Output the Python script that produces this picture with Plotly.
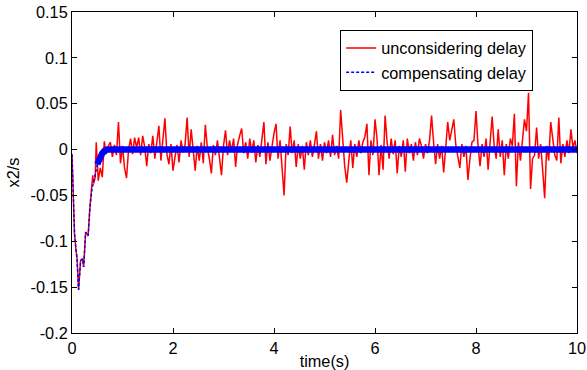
import numpy as np
import plotly.graph_objects as go

# ---- data ----
red_tr_t = [0, 0.03, 0.05, 0.08, 0.10, 0.13, 0.15, 0.17, 0.21, 0.23, 0.25, 0.27, 0.30, 0.32, 0.35, 0.39, 0.41, 0.43, 0.46]
red_tr_y = [-0.005, -0.066, -0.092, -0.11, -0.118, -0.153, -0.14, -0.121, -0.119, -0.128, -0.11, -0.09, -0.092, -0.094, -0.066, -0.045, -0.028, -0.037, -0.03]

red_t0 = 0.48
red_dt = 0.04
red_y = [
    0.008, -0.034, -0.02, -0.03, 0.009, -0.005, 0.004, 0.008, -0.008, 0.005, -0.006, 0.03, -0.015, 0.004, -0.02, -0.031, 0.0, 0.012, -0.005, 0.013, 0.002, 0.013, -0.006, 0.015, 0.003,
    -0.018, 0.006, -0.004, 0.015, -0.01, 0.008, 0.026, -0.012, 0.01, 0.034, -0.005, -0.016, 0.006, -0.023, -0.008, 0.005, -0.014, 0.01, -0.003, 0.006, 0.035, -0.008, 0.022, -0.004, -0.023,
    0.004, -0.012, 0.008, -0.015, 0.027, 0.002, -0.01, -0.026, 0.005, -0.006, 0.01, -0.01, -0.028, 0.004, 0.021, -0.006, 0.01, -0.002, 0.012, -0.019, 0.006, 0.015, 0.023, -0.004, 0.008,
    -0.01, 0.012, -0.003, 0.01, -0.014, 0.005, -0.008, 0.012, 0.03, -0.016, 0.008, -0.012, 0.004, 0.018, 0.028, -0.01, 0.01, -0.02, -0.05, 0.006, -0.006, 0.025, -0.004, 0.01, -0.019,
    0.006, -0.01, 0.004, -0.022, 0.008, -0.006, 0.01, -0.008, 0.005, 0.02, -0.01, 0.006, -0.012, 0.008, -0.004, 0.01, -0.008, 0.016, -0.006, 0.004, -0.01, 0.043, 0.012, -0.018, -0.036,
    -0.01, 0.01, -0.02, 0.006, -0.008, 0.01, -0.004, 0.008, 0.014, 0.028, -0.028, 0.01, -0.006, 0.033, 0.012, -0.028, 0.005, -0.022, 0.037, 0.008, -0.01, 0.012, -0.005, 0.01, -0.026,
    0.004, -0.008, 0.01, -0.024, 0.012, -0.004, 0.006, -0.012, 0.008, -0.006, 0.012, 0.004, -0.01, 0.006, -0.004, 0.01, 0.037, 0.008, -0.016, 0.006, -0.01, 0.004, -0.025, 0.002, 0.03,
    0.01, 0.02, 0.033, 0.005, -0.01, -0.02, 0.006, -0.008, 0.004, -0.033, -0.01, 0.008, 0.01, 0.042, 0.004, -0.018, 0.006, -0.008, 0.012, -0.022, 0.008, 0.036, 0.004, -0.01, 0.022,
    -0.008, 0.01, -0.028, 0.006, -0.01, 0.012, 0.004, 0.039, -0.04, 0.008, -0.012, 0.01, 0.033, 0.02, 0.062, -0.043, -0.01, -0.006, 0.024, -0.01, 0.006, -0.022, -0.053, 0.004, -0.012,
    0.03, 0.008, -0.006, -0.012, 0.035, -0.015, 0.006, -0.008, 0.01, -0.004, 0.022, 0.002, 0.01, -0.004,
]

blue_tr_t = [0, 0.03, 0.05, 0.08, 0.10, 0.13, 0.17, 0.21, 0.23, 0.27, 0.32, 0.36, 0.40, 0.44, 0.48, 0.52, 0.56, 0.60, 0.65, 0.70]
blue_tr_y = [-0.005, -0.066, -0.092, -0.11, -0.12, -0.153, -0.121, -0.119, -0.128, -0.09, -0.094, -0.06, -0.042, -0.032, -0.02, -0.012, -0.006, -0.003, -0.001, 0.0]

blue_band_t = [0.5, 0.55, 0.6, 0.65, 0.7, 0.8, 1, 2, 3, 4, 5, 6, 7, 8, 9, 10]
blue_band_y = [-0.016, -0.009, -0.004, -0.001, 0.0, 0.0, 0.0, 0.0, 0.0, 0.0, 0.0, 0.0, 0.0, 0.0, 0.0, 0.0]

x_ticks = [0, 2, 4, 6, 8, 10]
y_ticks = [0.15, 0.1, 0.05, 0, -0.05, -0.1, -0.15, -0.2]
y_ticktext = ["0.15", "0.1", "0.05", "0", "-0.05", "-0.1", "-0.15", "-0.2"]

# ---- figure ----
red_t = list(red_tr_t) + [round(red_t0 + red_dt * k, 4) for k in range(len(red_y))]
red_all = list(red_tr_y) + list(red_y)

fig = go.Figure()
fig.add_trace(go.Scatter(x=red_t, y=red_all, mode="lines", name="unconsidering delay",
                         line=dict(color="red", width=1.5)))
fig.add_trace(go.Scatter(x=blue_band_t, y=blue_band_y, mode="lines", showlegend=False,
                         line=dict(color="blue", width=6.5)))
fig.add_trace(go.Scatter(x=blue_tr_t, y=blue_tr_y, mode="lines", name="compensating delay",
                         line=dict(color="blue", width=1.4, dash="3px,2px")))

font = dict(family="Liberation Sans, Arial, sans-serif", size=16.3, color="black")
axis_common = dict(showgrid=False, zeroline=False, showline=True, linecolor="black", linewidth=1,
                   mirror="ticks", ticks="inside", ticklen=5, tickcolor="black", tickfont=font,
                   automargin=False)

fig.update_layout(
    width=587, height=370,
    margin=dict(l=72, r=10, t=12, b=37),
    paper_bgcolor="white", plot_bgcolor="white",
    font=font,
    xaxis=dict(range=[0, 10], tickvals=x_ticks, ticktext=[str(v) for v in x_ticks],
               title=dict(text="time(s)", font=font, standoff=0), **axis_common),
    yaxis=dict(range=[-0.2, 0.15], tickvals=y_ticks, ticktext=y_ticktext,
               title=dict(text="x2/s", font=font, standoff=6), **axis_common),
    legend=dict(x=0.531, y=0.944, xanchor="left", yanchor="top", bgcolor="white",
                bordercolor="black", borderwidth=1, font=font, tracegroupgap=0,
                itemwidth=30),
    showlegend=True,
)

fig.write_html("out.html", config={"displayModeBar": False},
               post_script="document.body.style.margin='0';")
